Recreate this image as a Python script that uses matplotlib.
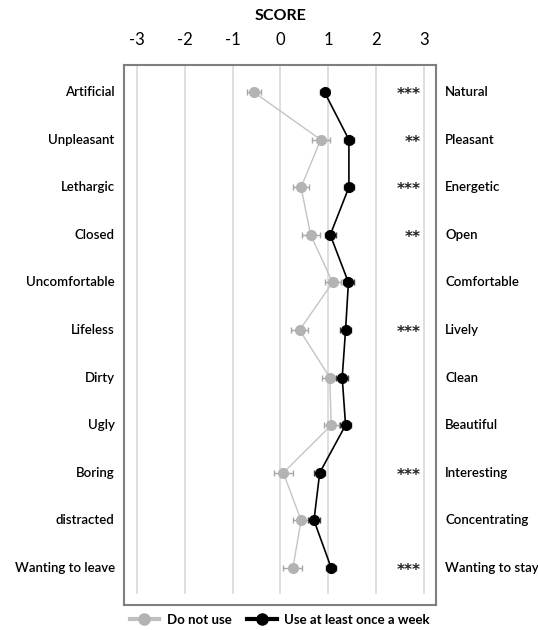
import matplotlib.pyplot as plt
from matplotlib.lines import Line2D
import matplotlib.transforms as mtransforms

plt.rcParams['font.family'] = ['Lato', 'DejaVu Sans']

# ── Data ──────────────────────────────────────────────────────────────────────
left_labels = ["Artificial", "Unpleasant", "Lethargic", "Closed", "Uncomfortable",
               "Lifeless", "Dirty", "Ugly", "Boring", "distracted", "Wanting to leave"]
right_labels = ["Natural", "Pleasant", "Energetic", "Open", "Comfortable",
                "Lively", "Clean", "Beautiful", "Interesting", "Concentrating", "Wanting to stay"]
no_use = [-0.56, 0.84, 0.43, 0.63, 1.09, 0.40, 1.03, 1.06, 0.06, 0.43, 0.26]
no_use_err = [0.15, 0.19, 0.17, 0.19, 0.17, 0.17, 0.17, 0.16, 0.20, 0.16, 0.20]
weekly = [0.92, 1.43, 1.43, 1.04, 1.42, 1.36, 1.29, 1.36, 0.82, 0.70, 1.06]
weekly_err = [0.09, 0.10, 0.10, 0.12, 0.11, 0.11, 0.12, 0.11, 0.12, 0.12, 0.11]
signif = ["***", "**", "***", "**", "", "***", "", "", "***", "", "***"]
ticks = [-3, -2, -1, 0, 1, 2, 3]

# ── Figure ────────────────────────────────────────────────────────────────────
W, H = 538, 630
fig = plt.figure(figsize=(W / 100, H / 100), dpi=100)
ax = fig.add_axes([124 / W, 1 - 605 / H, 312 / W, 540 / H])

rows = list(range(len(left_labels)))

for t in ticks:
    ax.axvline(t, ymin=12 / 540, ymax=538 / 540, color="#d9d9d9", lw=1.2, zorder=0)

ax.errorbar(no_use, rows, xerr=no_use_err, color="#c4c4c4", ecolor="#a6a6a6",
            lw=1.0, marker="o", ms=7, mfc="#b3b3b3", mec="#b3b3b3",
            capsize=2.5, elinewidth=1, capthick=1, zorder=2)
ax.errorbar(weekly, rows, xerr=weekly_err, color="black", ecolor="#404040",
            lw=1.2, marker="o", ms=7, mfc="black", mec="black",
            capsize=2.5, elinewidth=1, capthick=1, zorder=3)

trans = mtransforms.blended_transform_factory(ax.transAxes, ax.transData)
for i in rows:
    ax.text(-0.03, i, left_labels[i], transform=trans, ha="right", va="center",
            fontsize=9.5, color="black", fontweight="semibold")
    ax.text(1.03, i, right_labels[i], transform=trans, ha="left", va="center",
            fontsize=9.5, color="black", fontweight="semibold")
    if signif[i]:
        ax.text(2.92, i + 0.05, signif[i], ha="right", va="center",
                fontsize=11, color="#222222", family="DejaVu Sans",
                fontweight="bold")

ax.set_xlim(-3.27, 3.25)
ax.set_ylim(10.78, -0.57)
ax.xaxis.tick_top()
ax.set_xticks(ticks)
ax.set_xticklabels([str(t) for t in ticks], fontsize=12)
ax.tick_params(axis="x", length=0, pad=12)
ax.set_yticks([])
for s in ax.spines.values():
    s.set_color("#7f7f7f")
    s.set_linewidth(1.5)

fig.text(280 / W, 1 - 16 / H, "SCORE", ha="center", va="center",
         fontsize=11.5, fontweight="bold")

handles = [
    Line2D([0], [0], color="#bfbfbf", lw=3, marker="o", ms=8, mfc="#b3b3b3", mec="#b3b3b3"),
    Line2D([0], [0], color="black", lw=3, marker="o", ms=8, mfc="black", mec="black"),
]
fig.legend(handles, ["Do not use", "Use at least once a week"], loc="center",
           bbox_to_anchor=(280 / W, 1 - 620 / H), ncol=2, frameon=False,
           handlelength=2.2, columnspacing=1.2, handletextpad=0.6,
           prop={"weight": "bold", "size": 9.5})

fig.savefig("out.png", dpi=100)
